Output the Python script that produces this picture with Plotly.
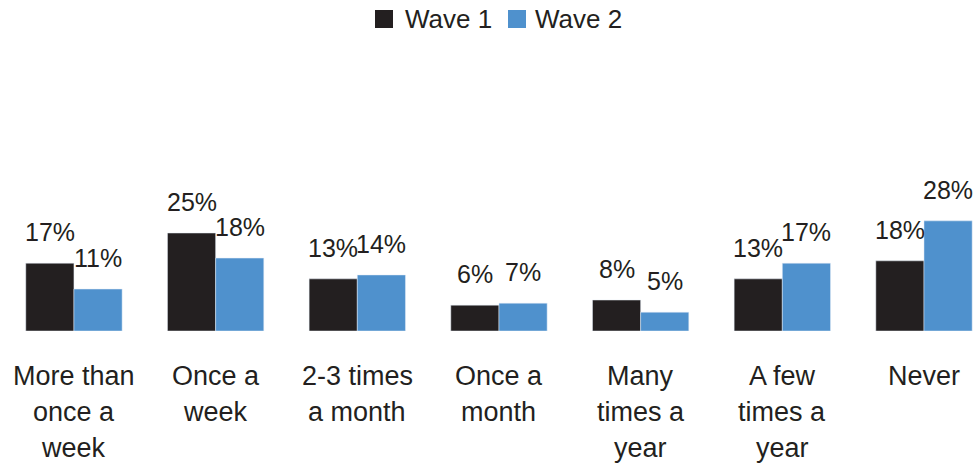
import plotly.graph_objects as go

categories = ["More than<br>once a<br>week", "Once a<br>week", "2-3 times<br>a month",
              "Once a<br>month", "Many<br>times a<br>year", "A few<br>times a<br>year", "Never"]
wave1 = [17.3, 25.0, 13.3, 6.6, 7.9, 13.3, 17.9]
wave2 = [10.7, 18.6, 14.3, 7.1, 4.8, 17.3, 28.1]
wave1_labels = ["17%", "25%", "13%", "6%", "8%", "13%", "18%"]
wave2_labels = ["11%", "18%", "14%", "7%", "5%", "17%", "28%"]
series_names = ["Wave 1", "Wave 2"]

BLACK = "#231f20"
BLUE = "#4f91cd"
colors = [BLACK, BLUE]
FONT = "Liberation Sans, Arial, sans-serif"
xs = list(range(len(categories)))

W, HT = 974, 465
MT, MB = 60, 134
H = HT - MT - MB

fig = go.Figure()
fig.add_trace(go.Bar(x=xs, y=wave1, name=series_names[0], marker_color=BLACK, showlegend=False))
fig.add_trace(go.Bar(x=xs, y=wave2, name=series_names[1], marker_color=BLUE, showlegend=False))

ann = []
for i in xs:
    ann.append(dict(x=i, y=wave1[i], xref="x", yref="y", text=wave1_labels[i], showarrow=False,
                    xshift=-24, yshift=15, yanchor="bottom", font=dict(size=25, color=BLACK, family=FONT)))
    ann.append(dict(x=i, y=wave2[i], xref="x", yref="y", text=wave2_labels[i], showarrow=False,
                    xshift=24, yshift=15, yanchor="bottom", font=dict(size=25, color=BLACK, family=FONT)))
    for j, line in enumerate(categories[i].split("<br>")):
        ann.append(dict(x=i, y=0, xref="x", yref="paper", text=line, showarrow=False,
                        yanchor="middle", yshift=-45 - 36 * j,
                        font=dict(size=27, color=BLACK, family=FONT)))

# custom legend (pixel positions converted to paper coords)
def px_x(p):
    return p / W

def px_y(p):
    return (HT - MB - p) / H

shapes = []
legend_items = [(375, 403), (508, 533)]
for (sq_left, txt_left), name, col in zip(legend_items, series_names, colors):
    shapes.append(dict(type="rect", xref="paper", yref="paper",
                       x0=px_x(sq_left), x1=px_x(sq_left + 18), y0=px_y(28), y1=px_y(10),
                       fillcolor=col, line=dict(width=0)))
    ann.append(dict(x=px_x(txt_left), y=px_y(19), xref="paper", yref="paper", text=name,
                    showarrow=False, xanchor="left", yanchor="middle",
                    font=dict(size=26, color=BLACK, family=FONT)))

fig.update_layout(
    width=W, height=HT,
    margin=dict(l=0, r=0, t=MT, b=MB),
    plot_bgcolor="white", paper_bgcolor="white",
    barmode="group", bargap=0.32, bargroupgap=0,
    font=dict(family=FONT, size=25, color=BLACK),
    showlegend=False,
    xaxis=dict(range=[-0.522, 6.353], showticklabels=False, showgrid=False, zeroline=False,
               showline=False, ticks=""),
    yaxis=dict(range=[0, H / 3.92], visible=False, showgrid=False, zeroline=False),
    annotations=ann,
    shapes=shapes,
)
fig.write_html("out.html", config={"displayModeBar": False},
               post_script="document.body.style.margin='0';document.body.style.overflow='hidden';")
